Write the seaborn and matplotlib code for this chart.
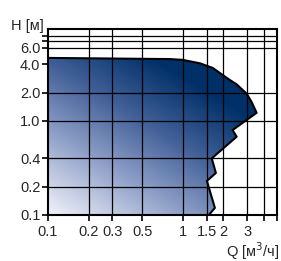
import numpy as np
import matplotlib
matplotlib.use("Agg")
import matplotlib.pyplot as plt
from matplotlib.colors import LinearSegmentedColormap
import pandas as pd
import seaborn as sns

# ---- data ----
q_vals = [0.1, 0.57, 0.8, 1.0, 1.34, 1.67, 1.88, 2.23, 2.51, 2.98, 3.24, 3.53,
          2.34, 2.51, 1.64, 1.76, 1.51, 1.73, 1.56]
h_vals = [4.68, 4.57, 4.55, 4.46, 4.1, 3.66, 3.24, 2.73, 2.45, 1.95, 1.59, 1.22,
          0.80, 0.68, 0.40, 0.28, 0.23, 0.119, 0.1]

x_ticks = [0.1, 0.2, 0.3, 0.5, 1, 1.5, 2, 3]
x_tick_labels = ["0.1", "0.2", "0.3", "0.5", "1", "1.5", "2", "3"]
x_minor = [4, 5]
y_ticks = [0.1, 0.2, 0.4, 1, 2, 4, 6]
y_tick_labels = ["0.1", "0.2", "0.4", "1.0", "2.0", "4.0", "6.0"]
y_minor = [7, 8]
x_grid = [0.2, 0.3, 0.5, 1, 1.5, 2, 3, 4]
y_grid = [0.2, 0.4, 1, 2, 6, 7, 8]

sns.set_style("white")
plt.rcParams["font.family"] = ["Liberation Sans", "DejaVu Sans"]
FS = 10.5

fig = plt.figure(figsize=(2.81, 2.61), dpi=100)
ax = fig.add_axes([48 / 281, 1 - 215 / 261, 229 / 281, 186 / 261])
ax.set_xscale("log")
ax.set_yscale("log")
ax.set_xlim(0.1, 5)
ax.set_ylim(0.1, 9.5)

# closed polygon for the working field
poly_q = q_vals + [0.1, 0.1]
poly_h = h_vals + [0.1, h_vals[0]]
patch = ax.fill(poly_q, poly_h, facecolor="none", edgecolor="none", zorder=1)[0]

cmap = LinearSegmentedColormap.from_list(
    "grad", [(0.0, "#f2f3fa"), (0.4, "#8a9cc5"), (0.7, "#3f5e96"), (1.0, "#003068")])
n = 300
xx, yy = np.meshgrid(np.linspace(0, 1, n), np.linspace(0, 1, n))
t = np.clip(0.63 * xx + 0.84 * yy, 0, 1)
im = ax.imshow(t, cmap=cmap, vmin=0, vmax=1, origin="lower", extent=[0, 1, 0, 1],
               transform=ax.transAxes, aspect="auto", zorder=1, interpolation="bilinear")
im.set_clip_path(patch)

for g in x_grid:
    ax.axvline(g, color="black", lw=0.9, zorder=2)
for g in y_grid:
    ax.axhline(g, color="black", lw=0.9, zorder=2)

df = pd.DataFrame({"Q": q_vals, "H": h_vals})
sns.lineplot(data=df, x="Q", y="H", sort=False, estimator=None, color="black",
             lw=1.5, ax=ax, zorder=3)
ax.set_xlabel("")
ax.set_ylabel("")

ax.xaxis.set_major_locator(matplotlib.ticker.FixedLocator(x_ticks))
ax.xaxis.set_minor_locator(matplotlib.ticker.FixedLocator(x_minor))
ax.xaxis.set_minor_formatter(matplotlib.ticker.NullFormatter())
ax.set_xticklabels(x_tick_labels)
ax.yaxis.set_major_locator(matplotlib.ticker.FixedLocator(y_ticks))
ax.yaxis.set_minor_locator(matplotlib.ticker.FixedLocator(y_minor))
ax.yaxis.set_minor_formatter(matplotlib.ticker.NullFormatter())
ax.set_yticklabels(y_tick_labels)

ax.tick_params(which="both", direction="out", length=4, width=1.2, color="black",
               labelsize=FS, pad=1.5, bottom=True, left=True)
ax.tick_params(axis="x", pad=3)
for s in ax.spines.values():
    s.set_visible(True)
    s.set_color("black")
    s.set_linewidth(1.5)
    s.set_zorder(4)

fig.text(44 / 281, 1 - 26 / 261, "H [м]", ha="right", va="center", fontsize=FS)
fig.text(279 / 281, 1 - 251 / 261, "Q [м$^3$/ч]", ha="right", va="center", fontsize=FS)

fig.savefig("out.png", dpi=100)
